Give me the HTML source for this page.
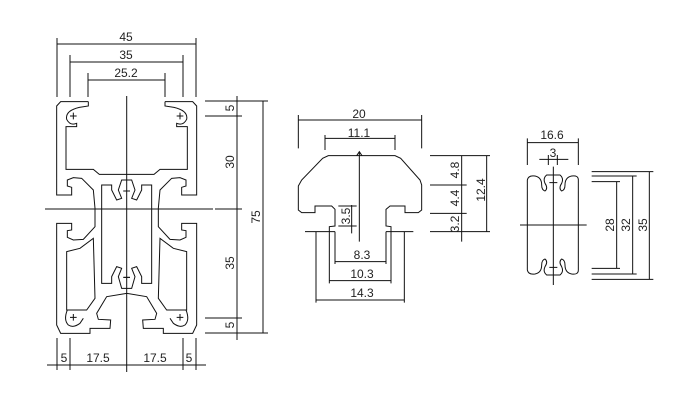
<!DOCTYPE html>
<html><head><meta charset="utf-8"><style>
html,body{margin:0;padding:0;background:#fff;}
svg{display:block}
text{font-family:"Liberation Sans",sans-serif;font-size:12px;fill:#222}
</style></head><body>
<svg width="700" height="400" viewBox="0 0 700 400" xmlns="http://www.w3.org/2000/svg">
<defs>
<g id="half">
<path d="M145,65 L62,65 L50,78 L50,345 L95,345 L95,322 L82,318 L82,300 L100,293 L125,295 L160,330 L165,385 L165,440 L130,478 L100,480 L82,472 L82,452 L95,450 L95,430 L50,430 L50,735 L62,760 L150,760 L150,745 L210,745 L212,720 L175,718 L170,700 L200,650 L260,640"/>
<path d="M145,65 L145,78 L118,82 Q75,92 80,118 Q90,138 110,130 L110,140 L78,140 L78,268 L160,268 L178,283 L260,283"/>
<path d="M80,515 L120,505 L160,475 L165,655 L140,690 L80,690 Z"/>
<path d="M260,300 L245,300 L235,330 L245,355 L230,360 L215,330 L215,315 L185,315 L185,610 L215,610 L215,590 L230,560 L245,565 L235,590 L245,625 L260,625"/>
<path d="M82,690 Q70,720 85,735 Q100,745 120,730 L130,715"/>
<path d="M90,108 L110,108 M100,98 L100,118 M90,712 L110,712 M100,702 L100,722 M250,333 L270,333 M250,592 L270,592"/>
</g>
</defs>
<g fill="none" stroke="#111" stroke-width="1">
<g transform="translate(40,80) scale(0.33333)" stroke-width="3">
<use href="#half"/>
<g transform="translate(520,0) scale(-1,1)"><use href="#half"/></g>
</g>
<line x1="126.7" y1="96" x2="126.7" y2="372"/>
<line x1="45" y1="209" x2="213" y2="209"/>
<line x1="57" y1="38" x2="57" y2="97"/><line x1="196" y1="38" x2="196" y2="97"/>
<line x1="70" y1="55" x2="70" y2="97"/><line x1="183" y1="55" x2="183" y2="97"/>
<line x1="88" y1="73" x2="88" y2="97"/><line x1="165" y1="73" x2="165" y2="97"/>
<line x1="57" y1="44" x2="196" y2="44"/>
<line x1="70" y1="62" x2="183" y2="62"/>
<line x1="88" y1="80" x2="165" y2="80"/>
<line x1="57" y1="338" x2="57" y2="370"/><line x1="70" y1="338" x2="70" y2="370"/>
<line x1="183" y1="338" x2="183" y2="370"/><line x1="196" y1="338" x2="196" y2="370"/>
<line x1="47" y1="365" x2="206" y2="365"/>
<line x1="205" y1="101" x2="268" y2="101"/>
<line x1="205" y1="116" x2="242" y2="116"/>
<line x1="215" y1="209" x2="242" y2="209"/>
<line x1="205" y1="318" x2="242" y2="318"/>
<line x1="205" y1="333" x2="268" y2="333"/>
<line x1="237" y1="96" x2="237" y2="340"/>
<line x1="263" y1="101" x2="263" y2="333"/>
<g transform="translate(280,110) scale(0.33333)" stroke-width="3">
<path d="M148,365 L148,350 L165,348 L165,298 L155,288 L105,288 L105,308 L65,308 L55,300 L55,228 L65,210 L128,145 L145,137 L345,137 L362,145 L420,210 L425,225 L425,300 L415,308 L375,308 L375,288 L330,288 L318,298 L318,348 L333,350 L333,365"/>
<path d="M75,365 L165,365 M318,365 L400,365"/>
<path d="M238,125 L238,395 M230,137 L238,125 L246,137"/>
<path d="M55,30 L425,30 M55,15 L55,115 M425,15 L425,115 M135,85 L345,85 M135,75 L135,120 M345,75 L345,120"/>
<path d="M450,137 L630,137 M450,225 L560,225 M450,310 L560,310 M450,365 L630,365 M545,137 L545,395 M620,137 L620,365"/>
<path d="M165,455 L318,455 M148,512 L333,512 M108,570 L373,570 M108,365 L108,578 M148,365 L148,520 M165,365 L165,462 M318,365 L318,462 M333,365 L333,520 M373,365 L373,578"/>
<path d="M215,285 L215,370 M175,288 L230,288 M175,348 L230,348"/>
</g>
<g transform="translate(510,120) scale(0.33333)" stroke-width="3">
<path d="M52,180 Q55,165 75,168 Q95,172 95,195 Q95,210 105,213 Q115,205 105,190 Q98,175 110,165 L150,165 Q162,175 155,190 Q145,205 155,213 Q165,210 165,195 Q165,172 185,168 Q205,165 205,180 L205,450 Q205,465 185,462 Q165,458 165,435 Q165,420 155,417 Q145,425 155,440 Q162,455 150,465 L110,465 Q98,455 105,440 Q115,425 105,417 Q95,420 95,435 Q95,458 75,462 Q55,465 52,450 Z"/>
<path d="M130,140 L130,495 M30,315 L230,315 M118,188 L142,188 M118,442 L142,442"/>
<path d="M52,68 L205,68 M52,55 L52,135 M205,55 L205,135 M88,118 L175,118 M115,105 L115,135 M142,105 L142,135"/>
<path d="M245,155 L430,155 M245,168 L380,168 M245,185 L330,185 M245,445 L330,445 M245,462 L380,462 M245,478 L430,478 M320,185 L320,445 M368,168 L368,462 M418,155 L418,478"/>
</g>
</g>
<g text-anchor="middle">
<text x="126" y="41">45</text>
<text x="126" y="59">35</text>
<text x="126" y="77">25.2</text>
<text x="64" y="362">5</text>
<text x="98" y="362">17.5</text>
<text x="155" y="362">17.5</text>
<text x="189" y="362">5</text>
<text transform="translate(234,108) rotate(-90)">5</text>
<text transform="translate(234,162) rotate(-90)">30</text>
<text transform="translate(260,217) rotate(-90)">75</text>
<text transform="translate(234,263) rotate(-90)">35</text>
<text transform="translate(234,325) rotate(-90)">5</text>
<text x="359" y="118">20</text>
<text x="359" y="137">11.1</text>
<text transform="translate(459,170) rotate(-90)">4.8</text>
<text transform="translate(459,198) rotate(-90)">4.4</text>
<text transform="translate(459,224) rotate(-90)">3.2</text>
<text transform="translate(485,190) rotate(-90)">12.4</text>
<text transform="translate(350,216) rotate(-90)">3.5</text>
<text x="362" y="259">8.3</text>
<text x="362" y="278">10.3</text>
<text x="362" y="297">14.3</text>
<text x="552" y="139">16.6</text>
<text x="553" y="157">3</text>
<text transform="translate(614,225) rotate(-90)">28</text>
<text transform="translate(630,225) rotate(-90)">32</text>
<text transform="translate(647,225) rotate(-90)">35</text>
</g>
</svg>
</body></html>
